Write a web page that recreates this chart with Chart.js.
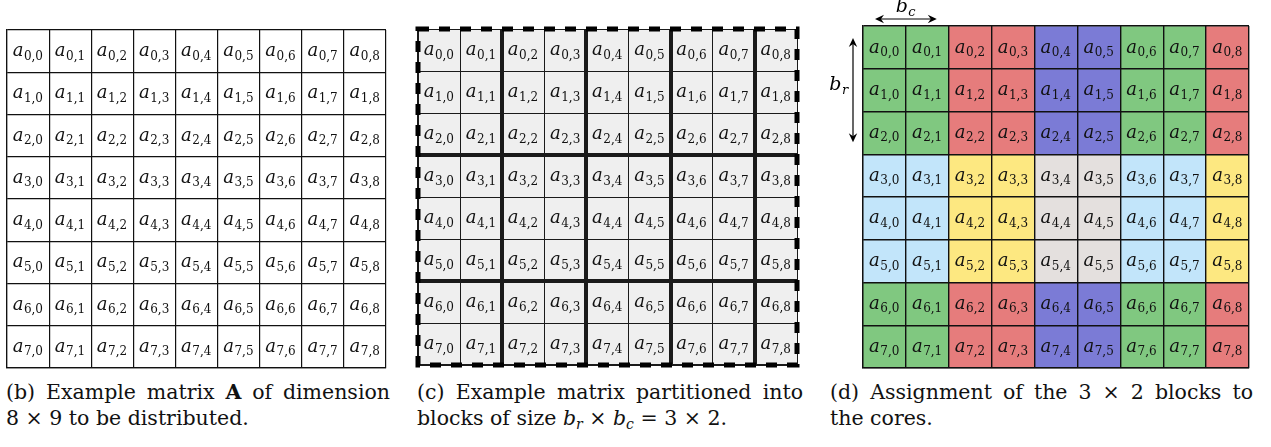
<!DOCTYPE html>
<html>
<head>
<meta charset="utf-8">
<script src="https://cdn.jsdelivr.net/npm/chart.js@4/dist/chart.umd.min.js"></script>
<style>
  html, body { margin: 0; padding: 0; background: #fff; }
  body { width: 1271px; height: 447px; position: relative; overflow: hidden;
         font-family: "DejaVu Serif", serif; color: #111; }
  canvas { position: absolute; }
  .cap { position: absolute; top: 380px; font-size: 20.5px; line-height: 25.8px; }
  .cap .l1 { text-align: justify; text-align-last: justify; white-space: nowrap; }
  .cap i { font-style: italic; }
  .cap sub { font-size: 14px; vertical-align: -4px; line-height: 0; font-style: italic; }
</style>
</head>
<body>
<canvas id="plainMatrix" width="387" height="346" style="left:3px;top:26px"></canvas>
<canvas id="blockMatrix" width="389" height="346" style="left:413px;top:24px"></canvas>
<canvas id="coreMatrix" width="427" height="372" style="left:826px;top:0px"></canvas>

<div class="cap" style="left:6px;width:384px">
  <div class="l1">(b) Example matrix <b>A</b> of dimension</div>
  <div>8 × 9 to be distributed.</div>
</div>
<div class="cap" style="left:417px;width:386px">
  <div class="l1">(c) Example matrix partitioned into</div>
  <div>blocks of size <i>b</i><sub>r</sub> × <i>b</i><sub>c</sub> = 3 × 2.</div>
</div>
<div class="cap" style="left:830px;width:423px">
  <div class="l1">(d) Assignment of the 3 × 2 blocks to</div>
  <div>the cores.</div>
</div>

<script>
// Matrix A: 8 rows x 9 columns
const rowIndex = [0, 1, 2, 3, 4, 5, 6, 7];
const colLabels = ['0', '1', '2', '3', '4', '5', '6', '7', '8'];

// Block size b_r x b_c
const blockRows = 3;
const blockCols = 2;

// Owner core of every block (block row x block column), 2 x 3 process grid
const blockOwner = [
  [0, 1, 2, 0, 1],
  [3, 4, 5, 3, 4],
  [0, 1, 2, 0, 1]
];
const coreColors = ['#80c880', '#e67c7c', '#7b7bd6', '#c2e5fa', '#fde881', '#e4e0de'];

const SERIF = '"DejaVu Serif", serif';

// One floating-bar dataset per matrix row; each bar spans [r, r+1]
function rowDatasets(fillFor) {
  return rowIndex.map(r => ({
    label: 'row ' + r,
    data: colLabels.map(() => [r, r + 1]),
    backgroundColor: colLabels.map((c, j) => fillFor(r, j)),
    borderWidth: 0,
    barPercentage: 1,
    categoryPercentage: 1,
    grouped: false
  }));
}

// Math-style label base_{sub}
function drawSubscripted(ctx, base, sub, cx, cy, baseSize, subSize, subItalic) {
  const baseFont = 'italic ' + baseSize + 'px ' + SERIF;
  const subFont = (subItalic ? 'italic ' : '') + subSize + 'px ' + SERIF;
  ctx.font = baseFont;
  const wa = ctx.measureText(base).width;
  ctx.font = subFont;
  const ws = ctx.measureText(sub).width;
  const x0 = cx - (wa + ws + 1) / 2;
  ctx.textBaseline = 'alphabetic';
  ctx.textAlign = 'left';
  ctx.font = baseFont;
  ctx.fillText(base, x0, cy + 5);
  ctx.font = subFont;
  ctx.fillText(sub, x0 + wa + 0.5, cy + 8.5);
}

const cellLabels = {
  id: 'cellLabels',
  afterDraw(chart) {
    const ctx = chart.ctx;
    ctx.save();
    ctx.fillStyle = '#111';
    chart.data.datasets.forEach((ds, di) => {
      const meta = chart.getDatasetMeta(di);
      meta.data.forEach((bar, j) => {
        const cy = (bar.y + bar.base) / 2;
        drawSubscripted(ctx, 'a', rowIndex[di] + ',' + colLabels[j], bar.x, cy, 18, 12, false);
      });
    });
    ctx.restore();
  }
};

// Dashed outline around the whole partitioned matrix
const dashedFrame = {
  id: 'dashedFrame',
  afterDraw(chart) {
    const a = chart.chartArea, ctx = chart.ctx;
    ctx.save();
    ctx.strokeStyle = '#000';
    ctx.lineWidth = 5;
    ctx.setLineDash([11, 10]);
    ctx.strokeRect(a.left, a.top, a.right - a.left, a.bottom - a.top);
    ctx.restore();
  }
};

function arrowHead(ctx, x, y, dx, dy) {
  const len = 9, half = 4.2, notch = 3;
  const px = -dy, py = dx;
  ctx.beginPath();
  ctx.moveTo(x, y);
  ctx.lineTo(x - dx * len + px * half, y - dy * len + py * half);
  ctx.lineTo(x - dx * (len - notch), y - dy * (len - notch));
  ctx.lineTo(x - dx * len - px * half, y - dy * len - py * half);
  ctx.closePath();
  ctx.fill();
}

// Dimension arrows for b_c and b_r around the first block
const blockDims = {
  id: 'blockDims',
  afterDraw(chart) {
    const xs = chart.scales.x, ys = chart.scales.y, a = chart.chartArea;
    const ctx = chart.ctx;
    const colW = xs.getPixelForValue(1) - xs.getPixelForValue(0);
    const bx0 = xs.getPixelForValue(0) - colW / 2;
    const bx1 = xs.getPixelForValue(blockCols - 1) + colW / 2;
    const by0 = ys.getPixelForValue(0);
    const by1 = ys.getPixelForValue(blockRows);
    const inset = 12;
    ctx.save();
    ctx.strokeStyle = '#000';
    ctx.fillStyle = '#000';
    ctx.lineWidth = 1.2;
    // horizontal b_c arrow
    const hy = a.top - 7;
    ctx.beginPath();
    ctx.moveTo(bx0 + inset + 3, hy); ctx.lineTo(bx1 - inset - 3, hy); ctx.stroke();
    arrowHead(ctx, bx0 + inset, hy, -1, 0);
    arrowHead(ctx, bx1 - inset, hy, 1, 0);
    drawSubscripted(ctx, 'b', 'c', (bx0 + bx1) / 2, 7, 19, 13, true);
    // vertical b_r arrow
    const vx = a.left - 10;
    ctx.beginPath();
    ctx.moveTo(vx, by0 + inset + 3); ctx.lineTo(vx, by1 - inset - 3); ctx.stroke();
    arrowHead(ctx, vx, by0 + inset, 0, -1);
    arrowHead(ctx, vx, by1 - inset, 0, 1);
    drawSubscripted(ctx, 'b', 'r', a.left - 24, (by0 + by1) / 2 - 5, 19, 13, true);
    ctx.restore();
  }
};

function matrixOptions(gridColor, xWidth, yWidth, padding) {
  return {
    responsive: false,
    animation: false,
    events: [],
    layout: { padding: padding },
    plugins: { legend: { display: false }, tooltip: { enabled: false } },
    scales: {
      x: {
        type: 'category',
        offset: true,
        ticks: { display: false },
        grid: { offset: true, drawTicks: false, color: gridColor, lineWidth: xWidth, z: 1 },
        border: { display: true, color: gridColor, width: 1.2, z: 1 }
      },
      y: {
        type: 'linear',
        min: 0, max: rowIndex.length,
        reverse: true,
        ticks: { display: false, stepSize: 1 },
        grid: { drawTicks: false, color: gridColor, lineWidth: yWidth, z: 1 },
        border: { display: true, color: gridColor, width: 1.2, z: 1 }
      }
    }
  };
}

// (b) plain matrix
new Chart(document.getElementById('plainMatrix'), {
  type: 'bar',
  data: { labels: colLabels, datasets: rowDatasets(() => '#ffffff') },
  options: matrixOptions('#111', 1.2, 1.2, 4),
  plugins: [cellLabels]
});

// (c) matrix partitioned into b_r x b_c blocks
const blockX = ctx => (ctx.index !== undefined && ctx.index > 0 && ctx.index % blockCols === 0) ? 4 : 1;
const blockY = ctx => {
  const v = ctx.tick ? ctx.tick.value : 0;
  return (v > 0 && v < rowIndex.length && v % blockRows === 0) ? 4 : 1;
};
new Chart(document.getElementById('blockMatrix'), {
  type: 'bar',
  data: { labels: colLabels, datasets: rowDatasets(() => '#efefef') },
  options: matrixOptions('#1a1a1a', blockX, blockY, 5),
  plugins: [cellLabels, dashedFrame]
});

// (d) blocks coloured by owning core
new Chart(document.getElementById('coreMatrix'), {
  type: 'bar',
  data: {
    labels: colLabels,
    datasets: rowDatasets((r, j) =>
      coreColors[blockOwner[Math.floor(r / blockRows)][Math.floor(j / blockCols)]])
  },
  options: matrixOptions('#111', 1.4, 1.4, { left: 37, top: 26, right: 4, bottom: 4 }),
  plugins: [cellLabels, blockDims]
});
</script>
</body>
</html>
